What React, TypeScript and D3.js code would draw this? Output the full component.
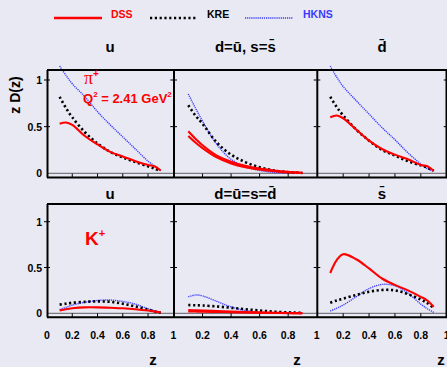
import React from "react";
import * as d3 from "d3";

// z grid shared by every curve
const zValues = [0.1, 0.15, 0.2, 0.3, 0.4, 0.5, 0.6, 0.7, 0.8, 0.85, 0.9];

// pi+ , u
const piU_DSS = [0.53, 0.545, 0.52, 0.4, 0.31, 0.23, 0.18, 0.13, 0.09, 0.075, 0.03];
const piU_KRE = [0.82, 0.7, 0.6, 0.44, 0.32, 0.23, 0.17, 0.12, 0.075, 0.05, 0.025];
const piU_HKNS = [1.15, 1.05, 0.96, 0.82, 0.66, 0.52, 0.39, 0.26, 0.13, 0.08, 0.03];
// pi+ , d=ubar, s=sbar
const piD_DSS_s = [0.45, 0.37, 0.3, 0.19, 0.125, 0.08, 0.05, 0.03, 0.015, 0.01, 0.005];
const piD_DSS_d = [0.4, 0.33, 0.27, 0.17, 0.105, 0.065, 0.04, 0.022, 0.01, 0.007, 0.004];
const piD_KRE = [0.73, 0.62, 0.53, 0.33, 0.2, 0.12, 0.065, 0.03, 0.012, 0.008, 0.004];
const piD_HKNS = [0.85, 0.7, 0.56, 0.31, 0.15, 0.07, 0.03, 0.01, 0.004, 0.002, 0.001];
// pi+ , dbar
const piDb_DSS = [0.6, 0.62, 0.59, 0.47, 0.35, 0.26, 0.2, 0.15, 0.09, 0.075, 0.025];
const piDb_KRE = [0.82, 0.71, 0.62, 0.47, 0.35, 0.25, 0.19, 0.13, 0.085, 0.06, 0.03];
const piDb_HKNS = [1.15, 1.03, 0.93, 0.78, 0.635, 0.49, 0.36, 0.22, 0.1, 0.05, 0.02];
// K+ , u
const kU_DSS = [0.03, 0.045, 0.055, 0.065, 0.065, 0.06, 0.055, 0.045, 0.03, 0.02, 0.01];
const kU_KRE = [0.095, 0.105, 0.115, 0.125, 0.13, 0.125, 0.105, 0.075, 0.04, 0.02, 0.005];
const kU_HKNS = [0.04, 0.065, 0.09, 0.12, 0.14, 0.145, 0.13, 0.1, 0.05, 0.03, 0.01];
// K+ , d=ubar=s=dbar
const kD_DSS_a = [0.035, 0.033, 0.03, 0.024, 0.018, 0.013, 0.009, 0.006, 0.003, 0.002, 0.001];
const kD_DSS_b = [0.02, 0.019, 0.018, 0.015, 0.012, 0.009, 0.006, 0.004, 0.002, 0.001, 0.001];
const kD_KRE = [0.09, 0.088, 0.085, 0.075, 0.06, 0.045, 0.03, 0.018, 0.01, 0.007, 0.004];
const kD_HKNS = [0.18, 0.2, 0.19, 0.13, 0.07, 0.03, 0.012, 0.005, 0.002, 0.001, 0];
// K+ , sbar
const kS_DSS = [0.44, 0.58, 0.645, 0.59, 0.49, 0.38, 0.31, 0.25, 0.18, 0.14, 0.07];
const kS_KRE = [0.115, 0.14, 0.16, 0.2, 0.235, 0.255, 0.25, 0.21, 0.15, 0.11, 0.06];
const kS_HKNS = [0.025, 0.055, 0.09, 0.18, 0.27, 0.315, 0.3, 0.22, 0.1, 0.05, 0.01];

const yTicks = [0, 0.5, 1];
const xTicks = [0, 0.2, 0.4, 0.6, 0.8, 1];
const xTickLabels = ["0", "0.2", "0.4", "0.6", "0.8", "1"];

const FONT = "'Liberation Sans', Arial, sans-serif";
const RED = "#ff0000";
const BLUE = "#3a3aff";

const styles = {
  DSS: { stroke: RED, width: 2.1, dash: null },
  KRE: { stroke: "#000", width: 2.6, dash: "2.2,2.6" },
  HKNS: { stroke: BLUE, width: 1.4, dash: "1.2,0.9" },
};

// columns: pixel position of z=0 and z=1
const cols = [
  { x0: 47, x1: 173.3 },
  { x0: 174, x1: 316.7 },
  { x0: 317.3, x1: 446.7 },
];
const rows = [
  { y0: 173.3, y1: 80, top: 70, bottom: 177.6, titleY: 52 },
  { y0: 313.3, y1: 221.7, top: 204, bottom: 317.3, titleY: 199 },
];

const panels = [
  { row: 0, col: 0, title: "u", curves: [["HKNS", piU_HKNS], ["KRE", piU_KRE], ["DSS", piU_DSS]] },
  { row: 0, col: 1, title: "d=u\u0304, s=s\u0304", curves: [["HKNS", piD_HKNS], ["KRE", piD_KRE], ["DSS", piD_DSS_s], ["DSS", piD_DSS_d]] },
  { row: 0, col: 2, title: "d\u0304", curves: [["HKNS", piDb_HKNS], ["KRE", piDb_KRE], ["DSS", piDb_DSS]] },
  { row: 1, col: 0, title: "u", curves: [["HKNS", kU_HKNS], ["KRE", kU_KRE], ["DSS", kU_DSS]] },
  { row: 1, col: 1, title: "d=u\u0304=s=d\u0304", curves: [["HKNS", kD_HKNS], ["KRE", kD_KRE], ["DSS", kD_DSS_a], ["DSS", kD_DSS_b]] },
  { row: 1, col: 2, title: "s\u0304", curves: [["HKNS", kS_HKNS], ["KRE", kS_KRE], ["DSS", kS_DSS]] },
];

const Panel = ({ p }) => {
  const c = cols[p.col];
  const r = rows[p.row];
  const x = d3.scaleLinear().domain([0, 1]).range([c.x0, c.x1]);
  const y = d3.scaleLinear().domain([0, 1]).range([r.y0, r.y1]);
  const line = d3
    .line<number>()
    .x((_, i) => x(zValues[i]))
    .y((d) => y(d))
    .curve(d3.curveCatmullRom.alpha(0.5));
  return (
    <g>
      {/* zero line */}
      <line x1={c.x0} x2={c.x1} y1={y(0)} y2={y(0)} stroke="#7a7a80" strokeWidth={1.2} />
      {p.curves.map(([name, vals], i) => {
        const s = styles[name];
        return (
          <path
            key={i}
            d={line(vals) || ""}
            fill="none"
            stroke={s.stroke}
            strokeWidth={s.width}
            strokeDasharray={s.dash || undefined}
          />
        );
      })}
      {/* y ticks inside left and right */}
      {yTicks.slice(1).map((t) => (
        <g key={t}>
          <line x1={c.x0} x2={c.x0 + 3} y1={y(t)} y2={y(t)} stroke="#000" strokeWidth={1} />
          <line x1={c.x1 - 3} x2={c.x1} y1={y(t)} y2={y(t)} stroke="#000" strokeWidth={1} />
        </g>
      ))}
      {/* x ticks */}
      {xTicks.slice(1, -1).map((t) => (
        <line key={t} x1={x(t)} x2={x(t)} y1={r.bottom} y2={r.bottom - 4} stroke="#000" strokeWidth={1} />
      ))}
      <text x={(c.x0 + c.x1) / 2} y={r.titleY} textAnchor="middle" fontFamily={FONT} fontWeight="bold" fontSize={15} fill="#000">
        {p.title}
      </text>
      {p.row === 1 &&
        xTicks.map((t, i) =>
          p.col > 0 && i === 0 ? null : (
            <text key={t} x={x(t)} y={339} textAnchor="middle" fontFamily={FONT} fontWeight="bold" fontSize={10.5} fill="#000">
              {xTickLabels[i]}
            </text>
          )
        )}
      {p.row === 1 && (
        <text x={[153, 297, 441][p.col]} y={365} textAnchor="middle" fontFamily={FONT} fontWeight="bold" fontSize={15} fill="#000">
          z
        </text>
      )}
    </g>
  );
};

export default function App() {
  const W = 447;
  const H = 367;
  return (
    <div style={{ position: "fixed", left: 0, top: 0 }}>
      <svg width={W} height={H}>
        <rect width={W} height={H} fill="#e9e9f3" />
        {/* legend */}
        <line x1={54} x2={102} y1={18} y2={18} stroke={RED} strokeWidth={2.5} />
        <text x={111} y={18} fontFamily={FONT} fontWeight="bold" fontSize={10.5} fill={RED}>DSS</text>
        <line x1={150} x2={198} y1={18} y2={18} stroke="#000" strokeWidth={2.6} strokeDasharray="2.2,2.6" />
        <text x={207} y={18} fontFamily={FONT} fontWeight="bold" fontSize={10.5} fill="#000">KRE</text>
        <line x1={245} x2={293} y1={18} y2={18} stroke={BLUE} strokeWidth={1.4} strokeDasharray="1.2,0.9" />
        <text x={303} y={18} fontFamily={FONT} fontWeight="bold" fontSize={10.5} fill={BLUE}>HKNS</text>

        {panels.map((p, i) => (
          <Panel key={i} p={p} />
        ))}

        {/* frames */}
        {rows.map((r, i) => (
          <g key={i} stroke="#000" strokeWidth={2}>
            <line x1={47} x2={447} y1={r.top} y2={r.top} />
            <line x1={47} x2={447} y1={r.bottom} y2={r.bottom} />
            {[47.5, 174, 317.3, 446.5].map((xx) => (
              <line key={xx} x1={xx} x2={xx} y1={r.top} y2={r.bottom} />
            ))}
          </g>
        ))}

        {/* y tick labels */}
        {rows.map((r, i) => {
          const y = d3.scaleLinear().domain([0, 1]).range([r.y0, r.y1]);
          return yTicks.map((t) => (
            <text key={i + "-" + t} x={42} y={y(t) + 4} textAnchor="end" fontFamily={FONT} fontWeight="bold" fontSize={10.5} fill="#000">
              {t}
            </text>
          ));
        })}
        {rows.map((r, i) => {
          const y = d3.scaleLinear().domain([0, 1]).range([r.y0, r.y1]);
          return yTicks.slice(1).map((t) => (
            <line key={"lt" + i + t} x1={44} x2={47} y1={y(t)} y2={y(t)} stroke="#000" strokeWidth={1} />
          ));
        })}

        <text transform="translate(20,95) rotate(-90)" textAnchor="middle" fontFamily={FONT} fontWeight="bold" fontSize={14} fill="#000">
          z D(z)
        </text>

        {/* annotations */}
        <text x={84} y={84} fontFamily="'Liberation Serif', 'Times New Roman', serif" fontSize={18} fill={RED}>
          π<tspan fontSize={10} dy={-7} fontFamily={FONT} fontWeight="bold">+</tspan>
        </text>
        <text x={83} y={103} fontFamily={FONT} fontWeight="bold" fontSize={13} fill={RED}>
          Q<tspan fontSize={8} dy={-6}>2</tspan><tspan dy={6}> = 2.41 GeV</tspan><tspan fontSize={8} dy={-6}>2</tspan>
        </text>
        <text x={85} y={245} fontFamily={FONT} fontWeight="bold" fontSize={19} fill={RED}>
          K<tspan fontSize={11} dy={-8}>+</tspan>
        </text>
      </svg>
    </div>
  );
}
